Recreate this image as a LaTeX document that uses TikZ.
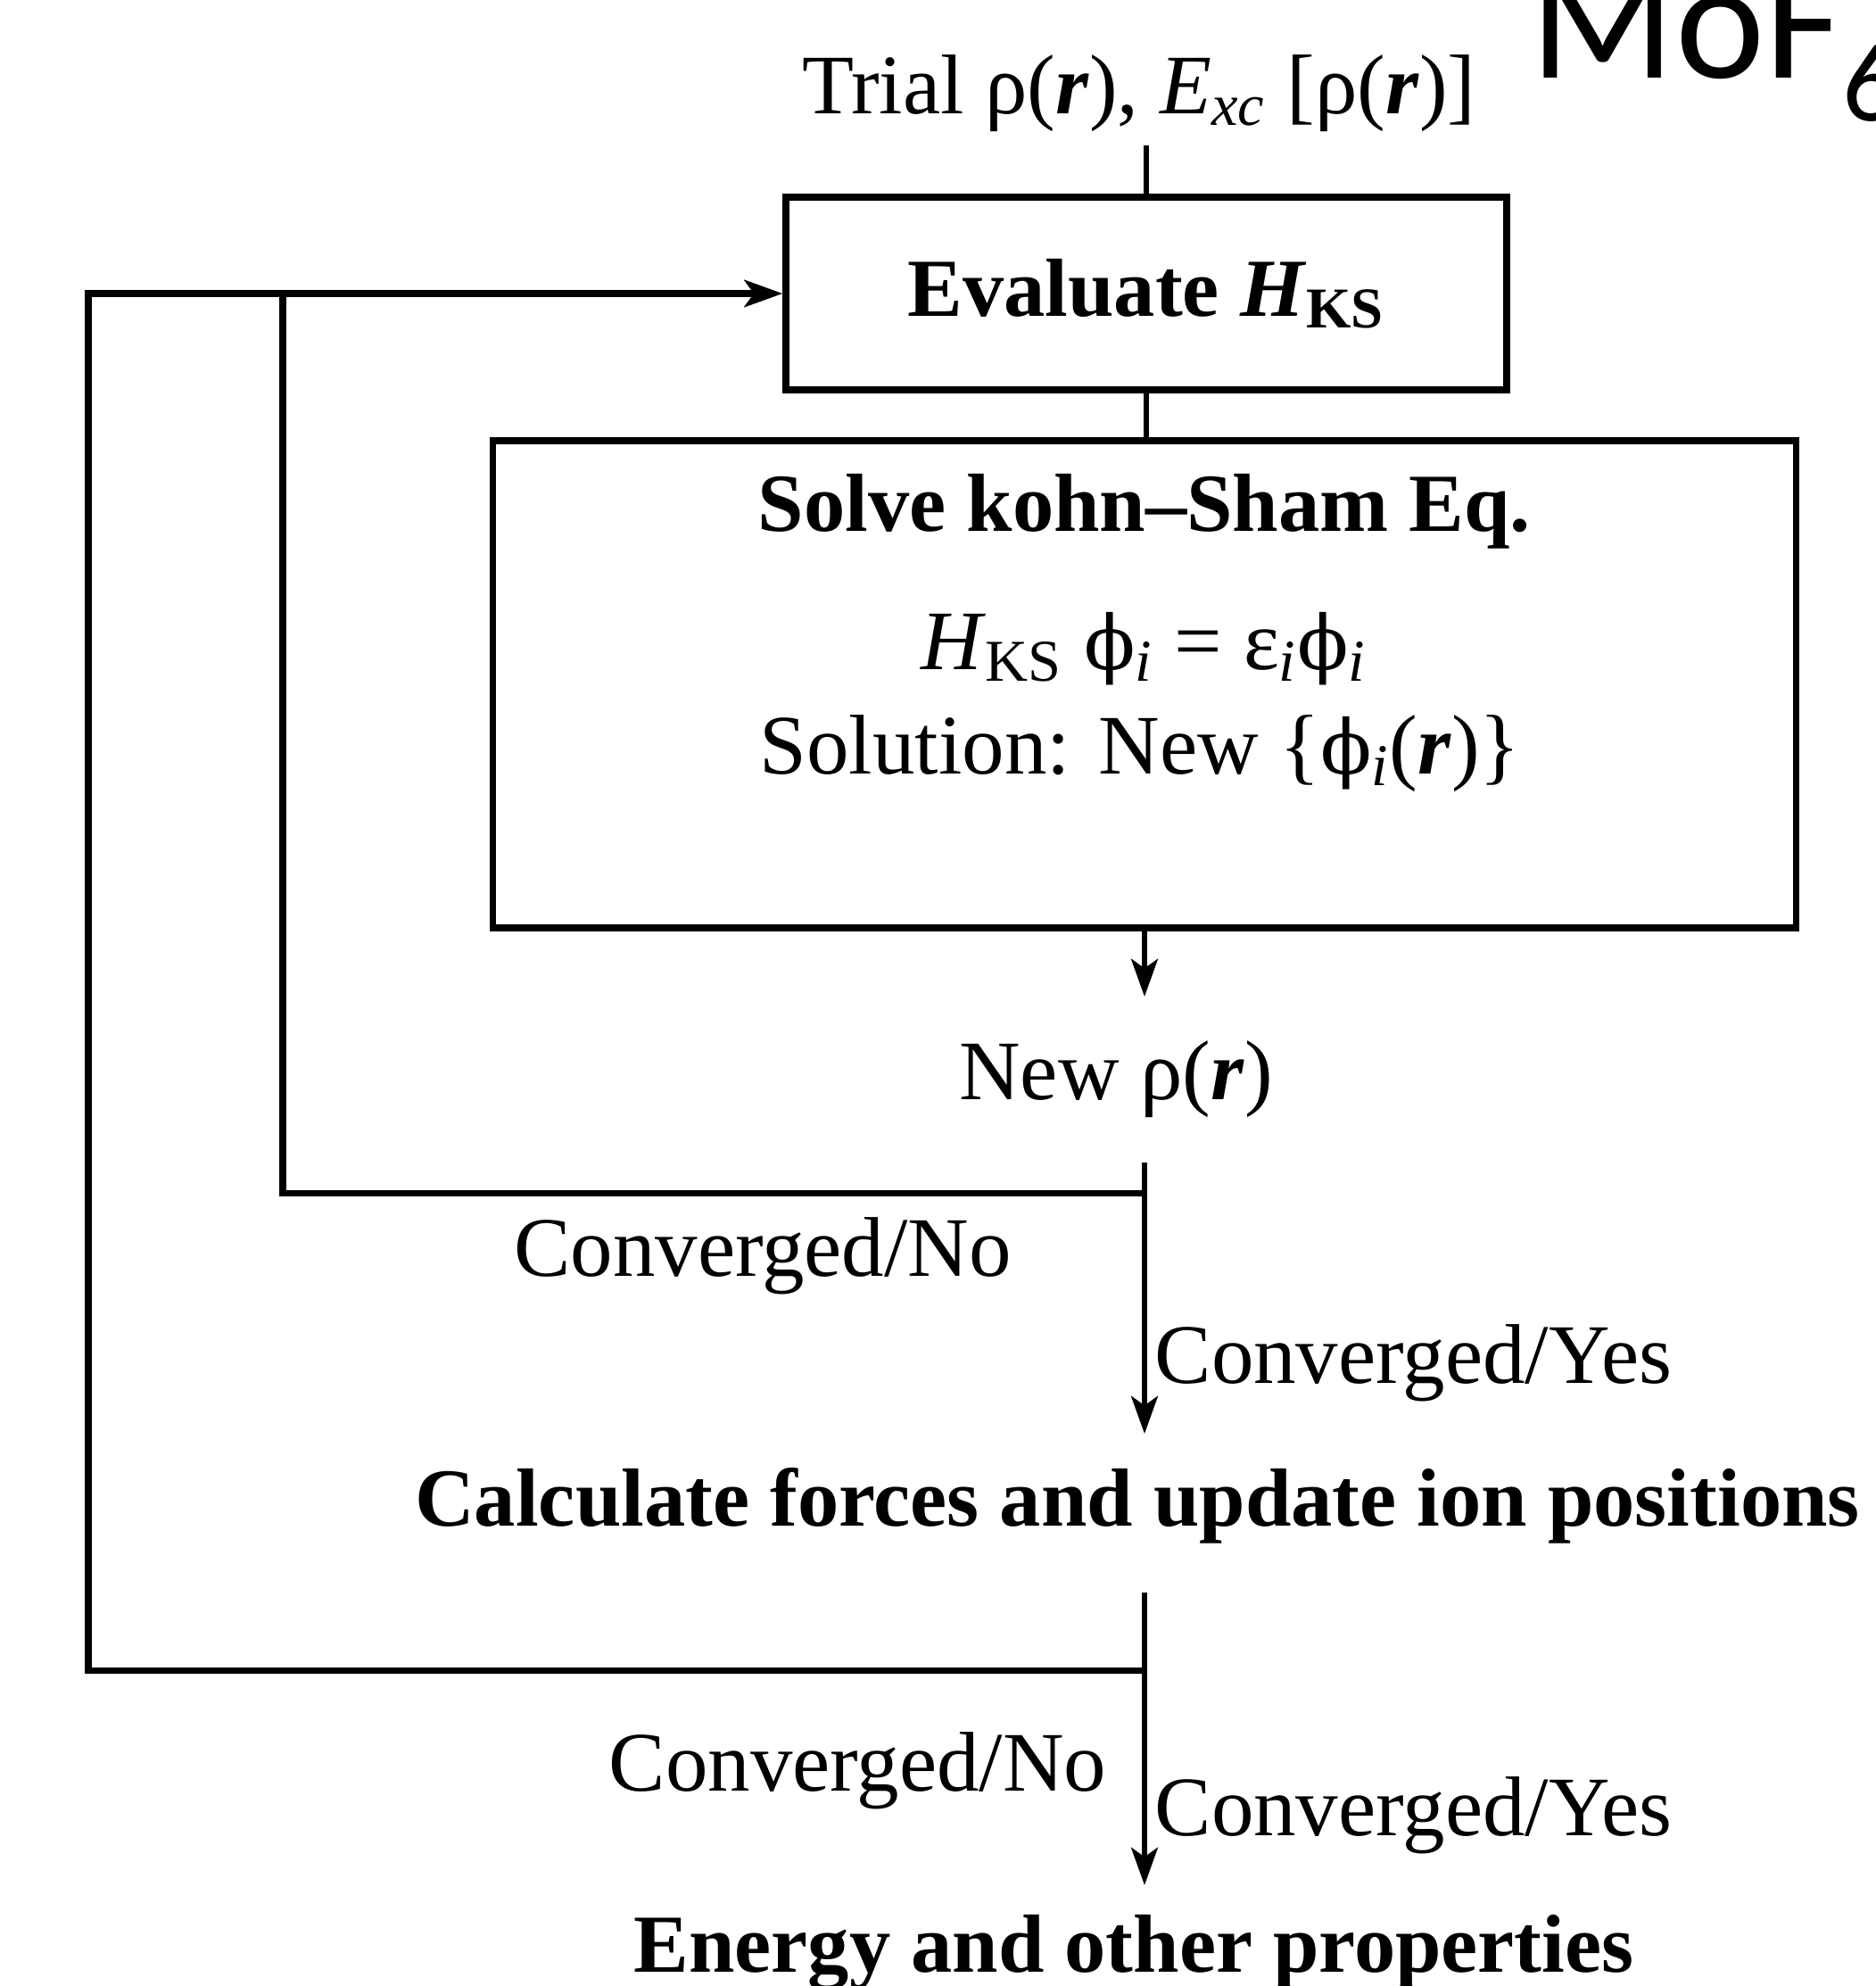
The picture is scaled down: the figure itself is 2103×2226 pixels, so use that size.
\documentclass[tikz,border=0pt]{standalone}
\usepackage{fontspec}
\setmainfont{Liberation Serif}
\newfontfamily\calibrifont{Carlito}
\newfontfamily\dvserif{DejaVu Serif}
\usetikzlibrary{arrows.meta}
\newcommand\rvec{\textbf{\textit{r}}}
\newcommand\lsub[1]{\textsubscript{#1}}
\newcommand\phisym{{\dvserif\fontsize{24}{28}\selectfont ϕ}}
\begin{document}
\begin{tikzpicture}[x=0.01cm,y=-0.01cm,
  txt/.style={inner sep=0pt, font=\fontsize{27}{32}\selectfont},
  btxt/.style={inner sep=0pt, font=\fontsize{26.3}{31}\selectfont\bfseries},
  boxed/.style={draw, line width=2.2pt, inner sep=0pt},
  conn/.style={line width=1.6pt},
  back/.style={line width=2pt},
  arr/.style={-{Stealth[length=12pt,width=8.5pt,inset=3pt]}}]
\clip (0,0) rectangle (2103,2226);
\fill[white] (0,0) rectangle (2103,2226);

% nodes
\node[txt, anchor=base] (trial) at (1277,127) {Trial ρ(\rvec), \textit{E}\lsub{\textit{xc}} [ρ(\rvec)]};
\node[boxed, btxt, draw, minimum width=8.08cm, minimum height=2.16cm] (eval) at (1285,329) {Evaluate \textit{H}\lsub{KS}};
\node[boxed, minimum width=14.6cm, minimum height=5.46cm] (solve) at (1283,767) {};
\node[btxt, anchor=base] (stitle) at (1283,595) {Solve kohn–Sham Eq.};
\node[txt, anchor=base] (eq) at (1282,750) {\textit{H}\lsub{KS} \phisym\lsub{\textit{i}} = ε\lsub{\textit{i}}\phisym\lsub{\textit{i}}};
\node[txt, anchor=base] (sol) at (1278,867) {Solution: New \{\phisym\lsub{\textit{i}}(\rvec)\}};
\node[txt, anchor=base] (newrho) at (1251,1232) {New ρ(\rvec)};
\node[txt, anchor=base] (no1) at (855,1430) {Converged/No};
\node[txt, anchor=base west] (yes1) at (1294,1550) {Converged/Yes};
\node[btxt, anchor=base] (calc) at (1275,1710) {Calculate forces and update ion positions};
\node[txt, anchor=base east] (no2) at (1241,2007) {Converged/No};
\node[txt, anchor=base west] (yes2) at (1294,2057) {Converged/Yes};
\node[btxt, anchor=base] (energy) at (1271,2210) {Energy and other properties};
\node[anchor=base west, inner sep=0pt, font=\calibrifont\fontsize{54}{60}\selectfont] (mof) at (1715,87) {MoF\raisebox{-0.48cm}{\fontsize{36}{40}\selectfont 6}};

% coordinates
\coordinate (t1) at (1283,1117);
\coordinate (s1) at (1283,1303);
\coordinate (j1) at (1283,1337);
\coordinate (t2) at (1283,1607);
\coordinate (c1) at (317,1337);
\coordinate (s2) at (1283,1785);
\coordinate (j2) at (1283,1872);
\coordinate (t3) at (1283,2113);
\coordinate (c2) at (99,1872);

% connectors
\draw[conn, shorten >=0.15cm] (eval.north) -- (eval.north |- trial.south);
\draw[conn] (eval.south) -- (eval.south |- solve.north);
\draw[conn, arr] (solve.south) -- (t1);
\draw[conn, arr] (s1) -- (t2);
\draw[back, arr] (j1) -- (c1) |- (eval.west);
\draw[conn, arr] (s2) -- (t3);
\draw[back, arr] (j2) -- (c2) |- (eval.west);
\end{tikzpicture}
\end{document}
